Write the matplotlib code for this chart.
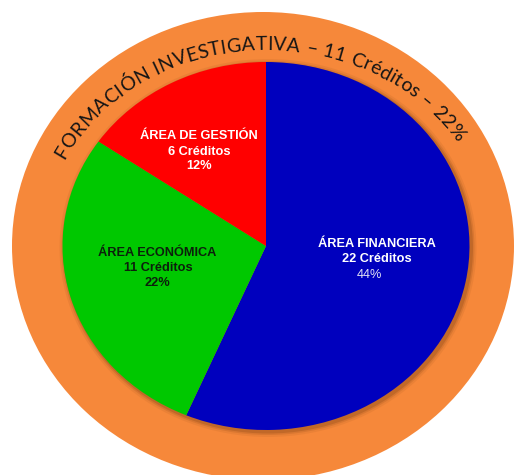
import numpy as np
import matplotlib
matplotlib.use("Agg")
import matplotlib.pyplot as plt
from matplotlib.patches import Ellipse
from matplotlib.font_manager import FontProperties, findfont, get_font

# Credit distribution of the study plan
areas = ["ÁREA FINANCIERA", "ÁREA ECONÓMICA", "ÁREA DE GESTIÓN"]
creditos = [22, 11, 6]
porcentajes = [44, 22, 12]
colores = ["#0000BE", "#00C800", "#FF0000"]

anillo_nombre = "FORMACIÓN INVESTIGATIVA"
anillo_creditos = 11
anillo_porcentaje = 22

W, H, DPI = 517, 475, 100
fig = plt.figure(figsize=(W / DPI, H / DPI), dpi=DPI)
fig.patch.set_facecolor("white")

# background axes in pixel units (y downwards)
bg = fig.add_axes([0, 0, 1, 1])
bg.set_xlim(0, W)
bg.set_ylim(H, 0)
bg.axis("off")

# outer orange ring
ring_c = (263, 246)
ring_rx, ring_ry = 251, 234
bg.add_patch(Ellipse(ring_c, 2 * ring_rx, 2 * ring_ry, color="#F6883A", lw=0))

# inner pie geometry
pcx, pcy, prx, pry = 266, 246, 203.5, 184

# soft shadow around the pie, thrown to the lower right
for d, a in [(5, 0.07), (3, 0.12), (1.5, 0.18)]:
    bg.add_patch(Ellipse((pcx + 2, pcy + 2), 2 * (prx + d), 2 * (pry + d),
                         color="#5a2a08", alpha=a, lw=0))

pie_ax = fig.add_axes([(pcx - prx) / W, 1 - (pcy + pry) / H, 2 * prx / W, 2 * pry / H])
pie_ax.pie(creditos, colors=colores, startangle=90, counterclock=False,
           radius=1, wedgeprops=dict(linewidth=0))
pie_ax.set_xlim(-1, 1)
pie_ax.set_ylim(-1, 1)
pie_ax.set_aspect("auto")
pie_ax.axis("off")

# transparent overlay for all text, pixel units
top = fig.add_axes([0, 0, 1, 1])
top.set_xlim(0, W)
top.set_ylim(H, 0)
top.axis("off")
top.patch.set_alpha(0)

# slice labels: x centres and baselines of the three lines, colours and weights
lab_font = "Liberation Sans"
lab_size = 9.2
label_layout = {
    "ÁREA FINANCIERA": dict(x=[377, 377, 369], y=[247, 262, 278],
                            color=["white", "white", "#E4E4F4"],
                            weight=["bold", "bold", "normal"]),
    "ÁREA ECONÓMICA": dict(x=[157, 158, 157], y=[256, 271, 286],
                           color=["#0C200C"] * 3, weight=["bold"] * 3),
    "ÁREA DE GESTIÓN": dict(x=[199, 199, 199], y=[139, 155, 169],
                            color=["white"] * 3, weight=["bold"] * 3),
}
for area, cr, pc in zip(areas, creditos, porcentajes):
    lay = label_layout[area]
    lines = [area, f"{cr} Créditos", f"{pc}%"]
    for k, line in enumerate(lines):
        top.text(lay["x"][k], lay["y"][k], line, ha="center", va="baseline",
                 fontsize=lab_size, family=lab_font, fontweight=lay["weight"][k],
                 color=lay["color"][k])

# curved title along the orange ring
ring_text = f"{anillo_nombre} – {anillo_creditos} Créditos – {anillo_porcentaje}%"
bx, by = 225, 196           # baseline ellipse
t_start, t_end = np.radians(154), np.radians(32)

tt = np.linspace(t_start, np.radians(0), 4000)
xs, ys = bx * np.cos(tt), by * np.sin(tt)
seg = np.hypot(np.diff(xs), np.diff(ys))
arc = np.concatenate([[0], np.cumsum(seg)])
L = np.interp(t_end, tt[::-1], arc[::-1])

ring_family = "Lato"
fp_ring = FontProperties(family=ring_family, size=10)
ft = get_font(findfont(fp_ring))


def advances(size_pt):
    ft.set_size(size_pt, DPI)
    return np.array([ft.load_char(ord(ch)).linearHoriAdvance / 65536 for ch in ring_text])


adv1 = advances(1.0)
ring_size = min(14.0, L / (0.86 * adv1.sum()))
spacing = L / (ring_size * adv1.sum())
adv = adv1 * ring_size * spacing
centers = np.cumsum(adv) - adv / 2
for ch, s in zip(ring_text, centers):
    t = np.interp(s, arc, tt)
    x = pcx + bx * np.cos(t)
    y = pcy - by * np.sin(t)
    rot = np.degrees(np.arctan2(-by * np.cos(t), bx * np.sin(t)))
    top.text(x, y, ch, ha="center", va="baseline", rotation=rot,
             rotation_mode="anchor", fontsize=ring_size, family=ring_family,
             color="#151515")

fig.savefig("out.png", dpi=DPI, facecolor="white")
